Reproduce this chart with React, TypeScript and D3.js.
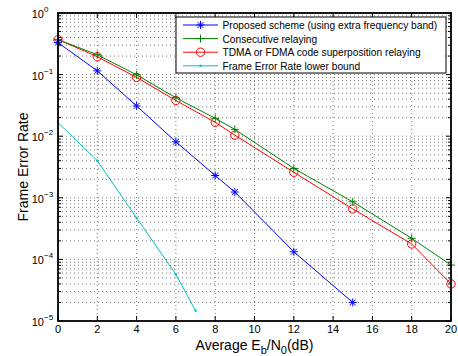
import { useEffect, useRef } from "react";
import * as d3 from "d3";

// Eb/N0 (dB) sample points for each curve
const proposedX = [0, 2, 4, 6, 8, 9, 12, 15];
const proposedY = [0.33, 0.115, 0.031, 0.0081, 0.0023, 0.00124, 1.33e-4, 2.0e-5];

const consecutiveX = [0, 2, 4, 6, 8, 9, 12, 15, 18, 20];
const consecutiveY = [0.37, 0.21, 0.099, 0.042, 0.0195, 0.0129, 0.003, 8.6e-4, 2.2e-4, 8.1e-5];

const tdmaX = [0, 2, 4, 6, 8, 9, 12, 15, 18, 20];
const tdmaY = [0.37, 0.195, 0.09, 0.038, 0.0168, 0.0104, 0.0026, 6.6e-4, 1.78e-4, 4.0e-5];

const boundX = [0, 2, 4, 6, 7];
const boundY = [0.0166, 0.004, 4.7e-4, 5.7e-5, 1.47e-5];

const xTicks = [0, 2, 4, 6, 8, 10, 12, 14, 16, 18, 20];
const yExponents = [0, -1, -2, -3, -4, -5];

const legendLabels = [
  "Proposed scheme (using extra frequency band)",
  "Consecutive relaying",
  "TDMA or FDMA code superposition relaying",
  "Frame Error Rate lower bound",
];

type Marker = "star" | "plus" | "circle" | "dot";

export default function App() {
  const svgRef = useRef<SVGSVGElement>(null);

  useEffect(() => {
    if (!svgRef.current) return;
    const svg = d3.select(svgRef.current);
    svg.selectAll("*").remove();

    const left = 58;
    const right = 451;
    const top = 13;
    const bottom = 321;
    const font = "Liberation Sans, Arial, Helvetica, sans-serif";

    const x = d3.scaleLinear().domain([0, 20]).range([left, right]);
    const y = d3.scaleLog().domain([1e-5, 1]).range([bottom, top]);

    // minor decade values
    const minors: number[] = [];
    for (let e = -5; e < 0; e++) {
      for (let m = 2; m <= 9; m++) minors.push(m * Math.pow(10, e));
    }

    const grid = svg.append("g");
    // horizontal grid (major + minor)
    [...minors, ...yExponents.map((e) => Math.pow(10, e))].forEach((v) => {
      grid
        .append("line")
        .attr("x1", left)
        .attr("x2", right)
        .attr("y1", y(v))
        .attr("y2", y(v))
        .attr("stroke", "#555")
        .attr("stroke-width", 0.8)
        .attr("stroke-dasharray", "1,3");
    });
    xTicks.forEach((t) => {
      grid
        .append("line")
        .attr("x1", x(t))
        .attr("x2", x(t))
        .attr("y1", top)
        .attr("y2", bottom)
        .attr("stroke", "#555")
        .attr("stroke-width", 0.8)
        .attr("stroke-dasharray", "1,3");
    });

    const drawSeries = (xs: number[], ys: number[], color: string, marker: Marker) => {
      const pts = xs.map((d, i) => [x(d), y(ys[i])] as [number, number]);
      svg
        .append("path")
        .attr("d", d3.line()(pts))
        .attr("fill", "none")
        .attr("stroke", color)
        .attr("stroke-width", 1);
      pts.forEach(([px, py]) => drawMarker(svg, px, py, color, marker));
    };

    drawSeries(tdmaX, tdmaY, "#ff0000", "circle");
    drawSeries(consecutiveX, consecutiveY, "#008000", "plus");
    drawSeries(proposedX, proposedY, "#0000ff", "star");
    drawSeries(boundX, boundY, "#00bfbf", "dot");

    // axes box
    const axes = svg.append("g").attr("stroke", "#000");
    axes
      .append("rect")
      .attr("x", left)
      .attr("y", top)
      .attr("width", right - left)
      .attr("height", bottom - top)
      .attr("fill", "none")
      .attr("stroke-width", 1.8);

    xTicks.forEach((t) => {
      axes.append("line").attr("x1", x(t)).attr("x2", x(t)).attr("y1", bottom).attr("y2", bottom - 5);
      axes.append("line").attr("x1", x(t)).attr("x2", x(t)).attr("y1", top).attr("y2", top + 5);
      svg
        .append("text")
        .attr("x", x(t))
        .attr("y", bottom + 12)
        .attr("text-anchor", "middle")
        .attr("font-family", font)
        .attr("font-size", 11)
        .text(t);
    });

    minors.forEach((v) => {
      axes.append("line").attr("x1", left).attr("x2", left + 3).attr("y1", y(v)).attr("y2", y(v));
      axes.append("line").attr("x1", right).attr("x2", right - 3).attr("y1", y(v)).attr("y2", y(v));
    });

    yExponents.forEach((e) => {
      const yy = y(Math.pow(10, e));
      axes.append("line").attr("x1", left).attr("x2", left + 5).attr("y1", yy).attr("y2", yy);
      axes.append("line").attr("x1", right).attr("x2", right - 5).attr("y1", yy).attr("y2", yy);
      const txt = svg
        .append("text")
        .attr("class", "ylab")
        .attr("y", yy + 5)
        .attr("font-family", font)
        .attr("font-size", 11);
      txt.append("tspan").text("10");
      txt
        .append("tspan")
        .attr("dy", -6)
        .attr("font-size", 8)
        .text(String(e).replace("-", "\u2212"));
    });
    // "10" bases end a fixed distance from the axis
    svg.selectAll<SVGTextElement, unknown>("text.ylab").attr("x", function () {
      const base = this.firstChild as SVGTSpanElement;
      return left - 14 - base.getComputedTextLength();
    });

    // axis labels
    svg
      .append("text")
      .attr("transform", `translate(28, ${(top + bottom) / 2}) rotate(-90)`)
      .attr("text-anchor", "middle")
      .attr("font-family", font)
      .attr("font-size", 14)
      .text("Frame Error Rate");

    const xl = svg
      .append("text")
      .attr("x", (left + right) / 2)
      .attr("y", 349.5)
      .attr("text-anchor", "middle")
      .attr("font-family", font)
      .attr("font-size", 14);
    xl.append("tspan").text("Average E");
    xl.append("tspan").attr("dy", 4).attr("font-size", 11).text("b");
    xl.append("tspan").attr("dy", -4).text("/N");
    xl.append("tspan").attr("dy", 4).attr("font-size", 11).text("0");
    xl.append("tspan").attr("dy", -4).text("(dB)");

    // legend
    const lg = svg.append("g");
    lg.append("rect")
      .attr("x", 176)
      .attr("y", 17)
      .attr("width", 270)
      .attr("height", 56)
      .attr("fill", "#fff")
      .attr("stroke", "#000")
      .attr("stroke-width", 1);
    const legendStyles: [string, Marker][] = [
      ["#0000ff", "star"],
      ["#008000", "plus"],
      ["#ff0000", "circle"],
      ["#00bfbf", "dot"],
    ];
    legendLabels.forEach((label, i) => {
      const ly = 25 + i * 13.6;
      const [color, marker] = legendStyles[i];
      lg.append("line")
        .attr("x1", 183)
        .attr("x2", 218)
        .attr("y1", ly)
        .attr("y2", ly)
        .attr("stroke", color)
        .attr("stroke-width", 1);
      drawMarker(lg, 200.5, ly, color, marker);
      lg.append("text")
        .attr("x", 222.5)
        .attr("y", ly + 4)
        .attr("font-family", font)
        .attr("font-size", 10.2)
        .text(label);
    });
  }, []);

  return (
    <svg
      ref={svgRef}
      width={458}
      height={356}
      style={{ position: "absolute", left: 0, top: 0, background: "#fff" }}
    />
  );
}

function drawMarker(
  g: d3.Selection<any, unknown, null, undefined>,
  px: number,
  py: number,
  color: string,
  marker: Marker
) {
  if (marker === "circle") {
    g.append("circle")
      .attr("cx", px)
      .attr("cy", py)
      .attr("r", 4.2)
      .attr("fill", "none")
      .attr("stroke", color)
      .attr("stroke-width", 1);
  } else if (marker === "dot") {
    g.append("circle").attr("cx", px).attr("cy", py).attr("r", 1.2).attr("fill", color);
  } else {
    const r = 4;
    const segs: [number, number, number, number][] = [
      [-r, 0, r, 0],
      [0, -r, 0, r],
    ];
    if (marker === "star") {
      const d = r * 0.75;
      segs.push([-d, -d, d, d], [-d, d, d, -d]);
    }
    segs.forEach(([a, b, c, e]) => {
      g.append("line")
        .attr("x1", px + a)
        .attr("y1", py + b)
        .attr("x2", px + c)
        .attr("y2", py + e)
        .attr("stroke", color)
        .attr("stroke-width", 1);
    });
  }
}
